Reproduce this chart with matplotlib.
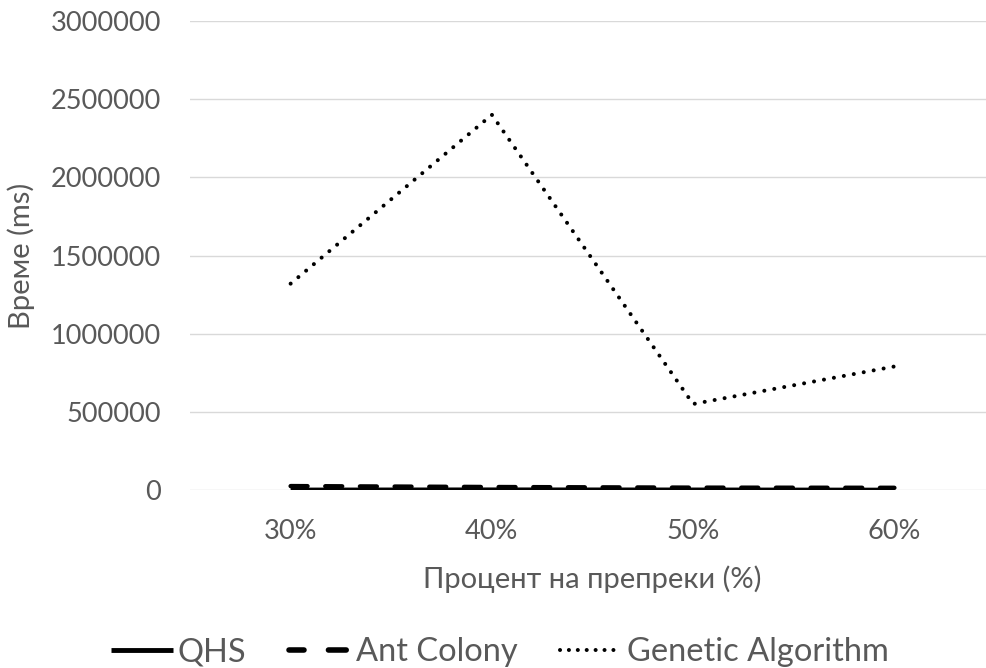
import numpy as np
import matplotlib.pyplot as plt
from matplotlib.lines import Line2D

plt.rcParams['font.family'] = ['Lato', 'DejaVu Sans']

# obstacle percentage categories
categories = ["30%", "40%", "50%", "60%"]

# run time in ms
qhs = [2000, 3000, 2500, 1500]
ant_colony = [25000, 19000, 15000, 14000]
genetic = [1320000, 2400000, 550000, 790000]

yticks = [0, 500000, 1000000, 1500000, 2000000, 2500000, 3000000]

TEXT = "#595959"

fig = plt.figure(figsize=(9.86, 6.68), dpi=100)
ax = fig.add_axes([190 / 986, 1 - 490 / 668, 805 / 986, 469 / 668])

x = np.arange(len(categories))

ax.plot(x, qhs, color="black", lw=3.0, solid_capstyle="butt", zorder=3)
ax.plot(x, ant_colony, color="black", lw=3.2, linestyle=(0, (3.8, 4.0)),
        dash_capstyle="round", zorder=3)
ax.plot(x, genetic, color="black", lw=2.9, linestyle=(0, (0.01, 2.5)),
        dash_capstyle="round", zorder=3)

ax.set_xlim(-0.5, 3.5)
ax.set_ylim(0, 3000000)
ax.set_xticks(x)
ax.set_xticklabels(categories)
ax.set_yticks(yticks)
ax.set_yticklabels([str(v) for v in yticks])

ax.grid(axis="y", color="#d9d9d9", lw=1.0)
ax.set_axisbelow(True)
for s in ax.spines.values():
    s.set_visible(False)
ax.tick_params(axis="both", length=0, labelsize=19.5, colors=TEXT)
ax.tick_params(axis="x", pad=21)
ax.tick_params(axis="y", pad=21)

ax.set_xlabel("Процент на препреки (%)", fontsize=21, color=TEXT, labelpad=15)
ax.set_ylabel("Време (ms)", fontsize=21, color=TEXT, labelpad=11)

# legend handles drawn separately so the short samples show whole dashes
handles = [
    Line2D([], [], color="black", lw=3.5, solid_capstyle="butt"),
    Line2D([], [], color="black", lw=4.0, linestyle=(0.5, (3.2, 4.4)), dash_capstyle="round"),
    Line2D([], [], color="black", lw=2.9, linestyle=(0, (0.01, 2.2)), dash_capstyle="round"),
]
labels = ["QHS", "Ant Colony", "Genetic Algorithm"]
fig.legend(handles, labels, loc="center", bbox_to_anchor=(500 / 986, 1 - 652 / 668), ncol=3,
           frameon=False, fontsize=23.5, handlelength=1.9, columnspacing=1.3,
           handletextpad=0.15, labelcolor=TEXT)

fig.savefig("out.png", dpi=100)
